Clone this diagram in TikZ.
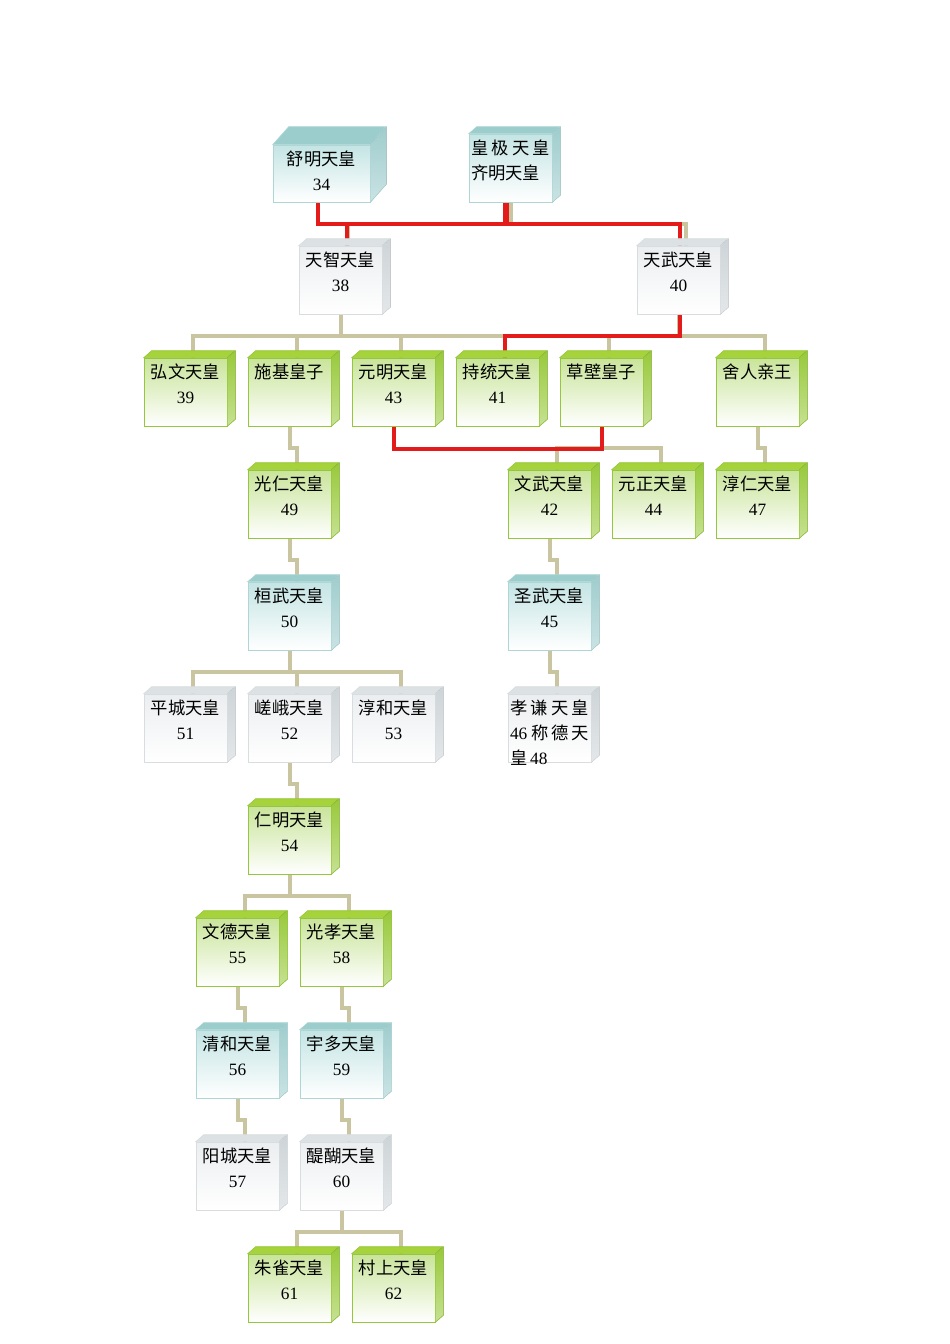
\documentclass[tikz,border=0pt]{standalone}
\usepackage{fontspec}
\setmainfont{Liberation Serif}
\newfontfamily\cjk{Noto Sans CJK SC}
\usepackage{tikz}
\usetikzlibrary{positioning}
\usetikzlibrary{calc}
\usetikzlibrary{backgrounds}

\definecolor{grnTop}{HTML}{A6D23A}
\definecolor{grnSide}{HTML}{98C93A}
\definecolor{grnFront}{HTML}{C9E49A}
\definecolor{grnEdge}{HTML}{95C73C}
\definecolor{teaTop}{HTML}{9BCDCD}
\definecolor{teaSide}{HTML}{9FCCCD}
\definecolor{teaFront}{HTML}{C4E4E4}
\definecolor{teaEdge}{HTML}{AFD6D6}
\definecolor{gryTop}{HTML}{DCE1E3}
\definecolor{grySide}{HTML}{CDD4D7}
\definecolor{gryFront}{HTML}{EBEEF0}
\definecolor{gryEdge}{HTML}{D8DDDF}
\definecolor{tanline}{HTML}{CAC5A1}
\definecolor{redline}{HTML}{E31B1B}

\def\boxw{83}\def\boxh{68}\def\boxdx{8}\def\boxdy{7}

\tikzset{
	box/.style={
		draw=#1Edge, line width=0.6pt,
		top color=#1Front, bottom color=white,
		inner sep=0pt, minimum width=\boxw pt, minimum height=\boxh pt
	},
	line of descent/.style={
		to path={(\tikztostart) |- ($(\tikztotarget)+(#1,-22)$) -- ($(\tikztotarget)+(#1,0)$)}
	},
	line of descent/.default=7,
	kin/.style={
		draw=tanline, line width=4pt, line of descent
	},
	wed/.style={
		draw=redline, line width=4pt, line of descent=#1
	},
	wed/.default=0
}
\def\boxtext#1{\parbox[t][\boxh pt][t]{\dimexpr\boxw pt-4pt\relax}{\centering\fontsize{17.3}{25}\selectfont\vspace*{6pt}#1}}
\def\emperor#1#2#3#4#5{%
	\node[box=#1] (#2) at ({#3+\boxw/2},{#4+\boxdy+\boxh/2}) {\boxtext{#5}};
	\filldraw[fill=#1Top, draw=#1Edge, line width=0.6pt] (#2.north west) -- ++(\boxdx,-\boxdy) -- ++(\boxw,0) -- (#2.north east) -- cycle;
	\filldraw[top color=#1Side, bottom color=#1Side!55!white, draw=#1Edge, line width=0.6pt] (#2.north east) -- ++(\boxdx,-\boxdy) -- ([shift={(\boxdx,-\boxdy)}]#2.south east) -- (#2.south east) -- cycle;
}

\begin{document}
\begin{tikzpicture}[x=1pt, y=-1pt]
\useasboundingbox (0,0) rectangle (950,1344);

{\def\boxw{97}\def\boxh{57}\def\boxdx{16}\def\boxdy{18}
\emperor{tea}{jomei}{273}{127}{{\cjk 舒明天皇}\\34}}
\emperor{tea}{kogyoku}{469}{127}{{\cjk 皇\hfill 极\hfill 天\hfill 皇}\\{\cjk 齐明天皇}\hfill\null}

\emperor{gry}{tenji}{299}{239}{{\cjk 天智天皇}\\38}
\emperor{gry}{tenmu}{637}{239}{{\cjk 天武天皇}\\40}

\emperor{grn}{kobun}{144}{351}{{\cjk 弘文天皇}\\39}
\emperor{grn}{shiki}{248}{351}{{\cjk 施基皇子}}
\emperor{grn}{genmei}{352}{351}{{\cjk 元明天皇}\\43}
\emperor{grn}{jito}{456}{351}{{\cjk 持统天皇}\\41}
\emperor{grn}{kusakabe}{560}{351}{{\cjk 草壁皇子}}
\emperor{grn}{toneri}{716}{351}{{\cjk 舍人亲王}}

\emperor{grn}{konin}{248}{463}{{\cjk 光仁天皇}\\49}
\emperor{grn}{monmu}{508}{463}{{\cjk 文武天皇}\\42}
\emperor{grn}{gensho}{612}{463}{{\cjk 元正天皇}\\44}
\emperor{grn}{junnin}{716}{463}{{\cjk 淳仁天皇}\\47}

\emperor{tea}{kanmu}{248}{575}{{\cjk 桓武天皇}\\50}
\emperor{tea}{shomu}{508}{575}{{\cjk 圣武天皇}\\45}

\emperor{gry}{heizei}{144}{687}{{\cjk 平城天皇}\\51}
\emperor{gry}{saga}{248}{687}{{\cjk 嵯峨天皇}\\52}
\emperor{gry}{junna}{352}{687}{{\cjk 淳和天皇}\\53}
\emperor{gry}{koken}{508}{687}{{\cjk 孝\hfill 谦\hfill 天\hfill 皇}\\46\hspace{4pt}{\cjk 称\hfill 德\hfill 天}\\{\cjk 皇}\,48\hfill\null}

\emperor{grn}{ninmyo}{248}{799}{{\cjk 仁明天皇}\\54}

\emperor{grn}{montoku}{196}{911}{{\cjk 文德天皇}\\55}
\emperor{grn}{koko}{300}{911}{{\cjk 光孝天皇}\\58}

\emperor{tea}{seiwa}{196}{1023}{{\cjk 清和天皇}\\56}
\emperor{tea}{uda}{300}{1023}{{\cjk 宇多天皇}\\59}

\emperor{gry}{yozei}{196}{1135}{{\cjk 阳城天皇}\\57}
\emperor{gry}{daigo}{300}{1135}{{\cjk 醍醐天皇}\\60}

\emperor{grn}{suzaku}{248}{1247}{{\cjk 朱雀天皇}\\61}
\emperor{grn}{murakami}{352}{1247}{{\cjk 村上天皇}\\62}

\begin{scope}[on background layer]
\draw [kin] (kogyoku.south) to (tenji.north);
\draw [kin] (kogyoku.south) to (tenmu.north);
\foreach \c in {kobun,shiki,genmei,jito}
	\draw [kin] (tenji.south) to (\c.north);
\foreach \c in {kusakabe,toneri}
	\draw [kin] (tenmu.south) to (\c.north);
\foreach \c in {monmu,gensho}
	\draw [kin] (kusakabe.south) to (\c.north);
\draw [kin] (shiki.south) to (konin.north);
\draw [kin] (toneri.south) to (junnin.north);
\draw [kin] (konin.south) to (kanmu.north);
\draw [kin] (monmu.south) to (shomu.north);
\draw [kin] (shomu.south) to (koken.north);
\foreach \c in {heizei,saga,junna}
	\draw [kin] (kanmu.south) to (\c.north);
\draw [kin] (saga.south) to (ninmyo.north);
\foreach \c in {montoku,koko}
	\draw [kin] (ninmyo.south) to (\c.north);
\draw [kin] (montoku.south) to (seiwa.north);
\draw [kin] (seiwa.south) to (yozei.north);
\draw [kin] (koko.south) to (uda.north);
\draw [kin] (uda.south) to (daigo.north);
\foreach \c in {suzaku,murakami}
	\draw [kin] (daigo.south) to (\c.north);

\draw [wed=1] ([xshift=-4pt]jomei.south) to (tenmu.north);
\draw [wed=6] ([xshift=6pt]tenji.north) ++(0,-22) to (tenji.north);
\draw [wed, line width=6pt] ([xshift=-5pt]kogyoku.south) -- ++(0,21);
\draw [wed=7] ([xshift=1pt]tenmu.south) to (jito.north);
\draw [wed] (genmei.south) -- ++(0,23) -| (kusakabe.south);
\end{scope}
\end{tikzpicture}
\end{document}
